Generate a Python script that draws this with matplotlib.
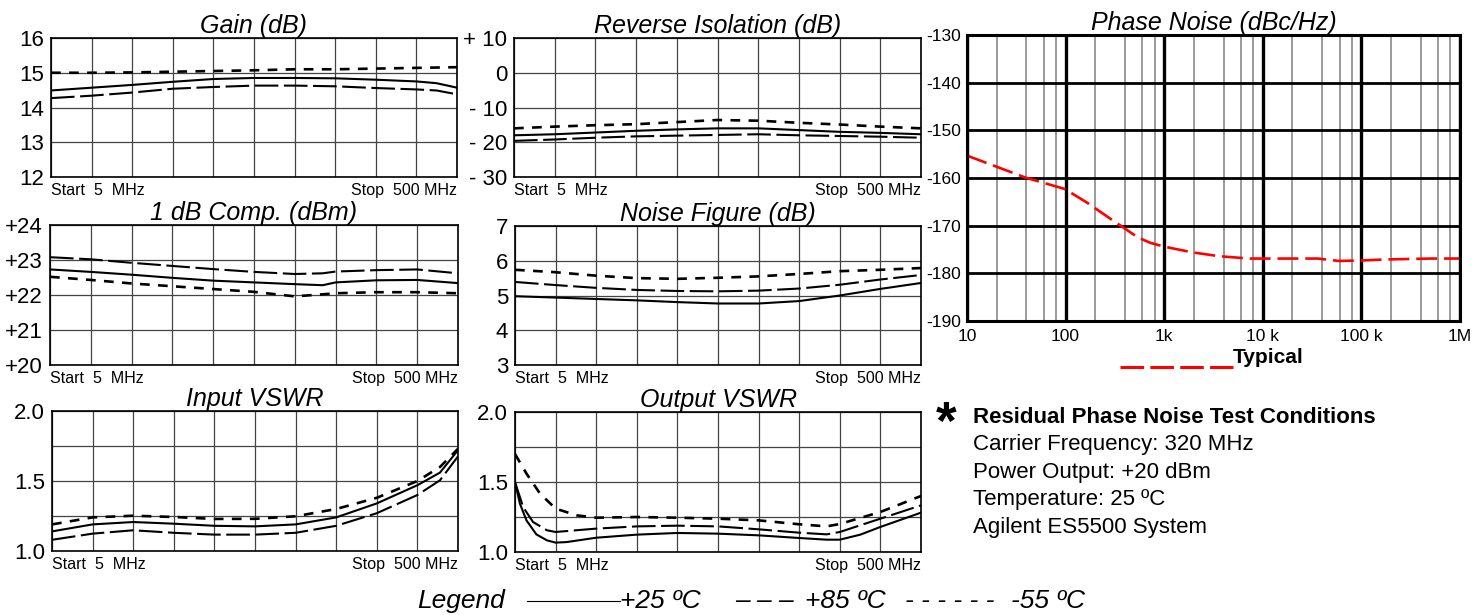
import numpy as np
import matplotlib
matplotlib.use("Agg")
import matplotlib.pyplot as plt
from matplotlib.lines import Line2D
from matplotlib.ticker import FixedLocator, NullFormatter

plt.rcParams['font.family'] = ['Liberation Sans', 'DejaVu Sans']
plt.rcParams['lines.scale_dashes'] = False

W, H = 1481, 615

# network analyser sweep: start 5 MHz, stop 500 MHz, ten divisions
sweep_grid = np.linspace(5, 500, 11)
freq_std = [5, 54.5, 104, 153.5, 203, 252.5, 302, 351.5, 401, 450.5, 500]

# Gain (dB)
freq_gain = [5, 54.5, 104, 153.5, 203, 252.5, 302, 351.5, 401, 450.5, 475, 500]
gain_p25 = [14.49, 14.57, 14.65, 14.74, 14.82, 14.85, 14.85, 14.84, 14.80, 14.75, 14.70, 14.57]
gain_p85 = [14.27, 14.34, 14.43, 14.54, 14.59, 14.63, 14.63, 14.61, 14.56, 14.52, 14.49, 14.38]
gain_m55 = [15.00, 15.00, 15.01, 15.03, 15.05, 15.07, 15.10, 15.10, 15.12, 15.14, 15.15, 15.16]

# Reverse isolation (dB)
rev_p25 = [-18.0, -17.7, -17.2, -16.7, -16.3, -16.0, -16.0, -16.5, -17.0, -17.3, -17.7]
rev_p85 = [-19.6, -19.2, -18.7, -18.3, -18.1, -17.9, -17.7, -18.0, -18.2, -18.4, -18.7]
rev_m55 = [-16.0, -15.5, -15.1, -14.8, -14.2, -13.6, -13.8, -14.4, -14.9, -15.5, -16.0]

# 1 dB compression (dBm)
freq_comp = [5, 54.5, 104, 153.5, 203, 252.5, 302, 336, 351.5, 401, 450.5, 500]
comp_p25 = [22.73, 22.66, 22.58, 22.49, 22.41, 22.36, 22.31, 22.28, 22.36, 22.42, 22.43, 22.34]
comp_p85 = [23.08, 23.02, 22.92, 22.83, 22.74, 22.66, 22.60, 22.62, 22.67, 22.71, 22.73, 22.62]
comp_m55 = [22.52, 22.43, 22.33, 22.25, 22.17, 22.09, 21.96, 22.02, 22.05, 22.08, 22.08, 22.05]

# Noise figure (dB)
nf_p25 = [4.98, 4.94, 4.90, 4.86, 4.81, 4.77, 4.77, 4.84, 5.00, 5.19, 5.36]
nf_p85 = [5.39, 5.30, 5.22, 5.16, 5.13, 5.12, 5.14, 5.20, 5.31, 5.46, 5.59]
nf_m55 = [5.74, 5.67, 5.57, 5.50, 5.48, 5.51, 5.55, 5.62, 5.70, 5.74, 5.79]

# Input VSWR
freq_ivswr = [5, 54.5, 104, 153.5, 203, 252.5, 302, 351.5, 401, 450.5, 478, 500]
ivswr_p25 = [1.14, 1.19, 1.207, 1.195, 1.18, 1.176, 1.19, 1.24, 1.34, 1.47, 1.56, 1.72]
ivswr_p85 = [1.08, 1.124, 1.148, 1.13, 1.117, 1.117, 1.13, 1.18, 1.27, 1.40, 1.505, 1.676]
ivswr_m55 = [1.19, 1.24, 1.252, 1.243, 1.229, 1.23, 1.248, 1.30, 1.38, 1.50, 1.60, 1.73]

# Output VSWR
freq_ov_p25 = [5, 11, 19, 31, 44, 54.5, 68, 104, 153.5, 203, 252.5, 302, 351.5, 385, 401, 426, 450.5, 500]
ovswr_p25 = [1.50, 1.345, 1.226, 1.126, 1.083, 1.067, 1.071, 1.102, 1.124, 1.136, 1.131, 1.119,
             1.100, 1.088, 1.088, 1.124, 1.179, 1.281]
freq_ov_p85 = [5, 15, 27, 44, 54.5, 104, 153.5, 203, 252.5, 302, 351.5, 385, 401, 450.5, 500]
ovswr_p85 = [1.50, 1.32, 1.214, 1.155, 1.143, 1.167, 1.183, 1.188, 1.183, 1.162, 1.138, 1.126,
             1.143, 1.238, 1.333]
freq_ov_m55 = [5, 19, 35.5, 54.5, 80, 104, 153.5, 203, 252.5, 302, 351.5, 385, 401, 450.5, 500]
ovswr_m55 = [1.70, 1.56, 1.417, 1.31, 1.262, 1.245, 1.25, 1.245, 1.238, 1.226, 1.198, 1.183,
             1.20, 1.286, 1.40]

# Residual phase noise (dBc/Hz), typical
pn_offset = [10, 39, 98, 166, 306, 380, 543, 724, 1000, 1930, 3600, 7250, 13700, 36000,
             59000, 102000, 170000, 500000, 1000000]
pn_dbc = [-155.3, -159.9, -162.3, -165.2, -169.0, -170.3, -172.5, -173.6, -174.4, -175.6,
          -176.4, -176.9, -176.9, -176.9, -177.4, -177.3, -177.1, -176.9, -176.9]
pn_decades = [10, 100, 1000, 10000, 100000, 1000000]
pn_decade_labels = ['10', '100', '1k', '10 k', '100 k', '1M']
pn_levels = [-190, -180, -170, -160, -150, -140, -130]

conditions = ['Carrier Frequency: 320 MHz', 'Power Output: +20 dBm',
              'Temperature: 25 ºC', 'Agilent ES5500 System']

SOLID = dict(color='black', lw=1.5, ls='-')
LONG = dict(color='black', lw=1.5, dashes=(17, 4))
SHORT = dict(color='black', lw=1.9, dashes=(7, 6))


def px_axes(fig, left, top, right, bottom):
    return fig.add_axes([left / W, 1 - bottom / H, (right - left) / W, (bottom - top) / H])


def small_panel(fig, box, title, ylim, yticks, ylabels, curves):
    ax = px_axes(fig, *box)
    for (x, y), style in zip(curves, (SOLID, LONG, SHORT)):
        ax.plot(x, y, **style)
    ax.set_xlim(5, 500)
    ax.set_ylim(*ylim)
    ax.set_xticks(sweep_grid)
    ax.set_xticklabels([])
    ax.set_yticks(yticks)
    ax.set_yticklabels(ylabels)
    ax.tick_params(length=0, labelsize=16, pad=5)
    ax.grid(True, color='#444444', lw=0.9)
    ax.set_axisbelow(True)
    for s in ax.spines.values():
        s.set_linewidth(1.2)
    ax.set_title(title, style='italic', fontsize=18, pad=3)
    left, top, right, bottom = box
    fig.text(left / W, 1 - (bottom + 18) / H, 'Start  5  MHz', fontsize=11.5, ha='left', va='baseline')
    fig.text(right / W, 1 - (bottom + 18) / H, 'Stop  500 MHz', fontsize=11.5, ha='right', va='baseline')
    return ax


def phase_noise_panel(fig):
    ax = px_axes(fig, 967, 35, 1460, 321)
    ax.set_xscale('log')
    ax.plot(pn_offset, pn_dbc, color='#ff0000', lw=1.9, dashes=(15, 5))
    ax.set_xlim(10, 1e6)
    ax.set_ylim(-190, -130)
    ax.set_xticks(pn_decades)
    ax.set_xticklabels(pn_decade_labels)
    minor = [m * d for d in pn_decades[:-1] for m in (2, 4, 6, 8)]
    ax.xaxis.set_minor_locator(FixedLocator(minor))
    ax.xaxis.set_minor_formatter(NullFormatter())
    ax.set_yticks(pn_levels)
    ax.set_yticklabels([str(v) for v in pn_levels])
    ax.tick_params(which='both', length=0)
    ax.tick_params(axis='y', labelsize=12.5, pad=4)
    ax.tick_params(axis='x', labelsize=12.5, pad=6)
    ax.grid(True, which='major', axis='y', color='black', lw=2.0)
    ax.grid(True, which='major', axis='x', color='black', lw=2.4)
    ax.grid(True, which='minor', axis='x', color='#808080', lw=1.1)
    ax.set_axisbelow(True)
    for s in ax.spines.values():
        s.set_linewidth(2.2)
    ax.set_title('Phase Noise (dBc/Hz)', style='italic', fontsize=18, pad=1.5)

    # "Typical" key under the chart
    fig.add_artist(Line2D([1120 / W, 1233 / W], [1 - 367 / H] * 2, color='#ff0000',
                          lw=2.2, dashes=(17, 4.5)))
    fig.text(1233 / W, 1 - 363 / H, 'Typical', fontsize=15, fontweight='bold', va='baseline')
    return ax


def notes(fig):
    fig.text(946 / W, 1 - 439 / H, '*', fontsize=38, fontweight='bold', ha='center', va='baseline')
    fig.text(973 / W, 1 - 423 / H, 'Residual Phase Noise Test Conditions', fontsize=16,
             fontweight='bold', va='baseline')
    for i, line in enumerate(conditions):
        fig.text(973 / W, 1 - (450 + 27.7 * i) / H, line, fontsize=16, va='baseline')


def legend(fig):
    base = 1 - 608 / H
    fig.text(417 / W, base, 'Legend', fontsize=19, style='italic', va='baseline')
    fig.add_artist(Line2D([527 / W, 620 / W], [1 - 601 / H] * 2, color='black', lw=0.8))
    fig.text(620 / W, base, '+25 ºC', fontsize=19, style='italic', va='baseline')
    fig.text(735 / W, base, '– – –', fontsize=19, style='italic', va='baseline')
    fig.text(805 / W, base, '+85 ºC', fontsize=19, style='italic', va='baseline')
    fig.text(905 / W, base, '- - - - - -', fontsize=19, style='italic', va='baseline')
    fig.text(1011 / W, base, '-55 ºC', fontsize=19, style='italic', va='baseline')


if __name__ == "__main__":
    fig = plt.figure(figsize=(W / 100, H / 100), dpi=100)

    small_panel(fig, (51, 38, 457, 177), 'Gain (dB)', (12, 16), [12, 13, 14, 15, 16],
                ['12', '13', '14', '15', '16'],
                [(freq_gain, gain_p25), (freq_gain, gain_p85), (freq_gain, gain_m55)])
    small_panel(fig, (514, 38, 921, 177), 'Reverse Isolation (dB)', (-30, 10),
                [-30, -20, -10, 0, 10], ['- 30', '- 20', '- 10', '0', '+ 10'],
                [(freq_std, rev_p25), (freq_std, rev_p85), (freq_std, rev_m55)])
    small_panel(fig, (50, 225, 458, 365), '1 dB Comp. (dBm)', (20, 24), [20, 21, 22, 23, 24],
                ['+20', '+21', '+22', '+23', '+24'],
                [(freq_comp, comp_p25), (freq_comp, comp_p85), (freq_comp, comp_m55)])
    small_panel(fig, (515, 226, 921, 365), 'Noise Figure (dB)', (3, 7), [3, 4, 5, 6, 7],
                ['3', '4', '5', '6', '7'],
                [(freq_std, nf_p25), (freq_std, nf_p85), (freq_std, nf_m55)])
    small_panel(fig, (52, 411, 458, 551), 'Input VSWR', (1.0, 2.0), [1.0, 1.25, 1.5, 1.75, 2.0],
                ['1.0', '', '1.5', '', '2.0'],
                [(freq_ivswr, ivswr_p25), (freq_ivswr, ivswr_p85), (freq_ivswr, ivswr_m55)])
    small_panel(fig, (515, 412, 921, 552), 'Output VSWR', (1.0, 2.0), [1.0, 1.25, 1.5, 1.75, 2.0],
                ['1.0', '', '1.5', '', '2.0'],
                [(freq_ov_p25, ovswr_p25), (freq_ov_p85, ovswr_p85), (freq_ov_m55, ovswr_m55)])

    phase_noise_panel(fig)
    notes(fig)
    legend(fig)

    fig.savefig('out.png', dpi=100)
